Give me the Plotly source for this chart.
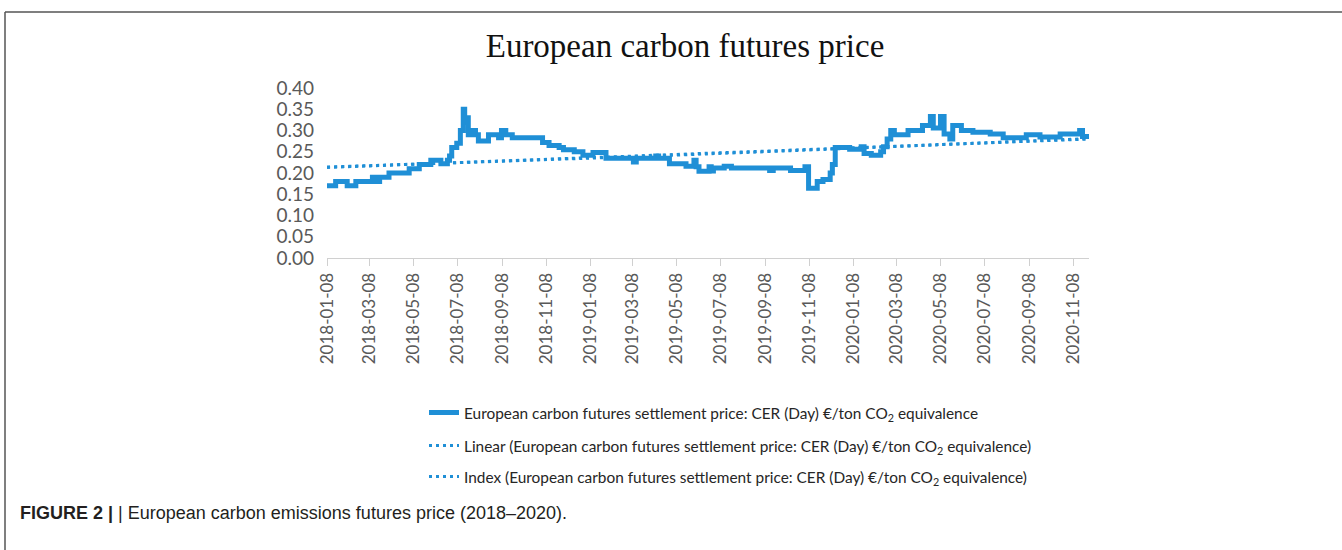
import plotly.graph_objects as go

# ---- data ----
price_dates = [
    "2018-01-08", "2018-01-20", "2018-02-05", "2018-02-17", "2018-03-12", "2018-03-18",
    "2018-03-22", "2018-04-04", "2018-05-02", "2018-05-16", "2018-06-01", "2018-06-15",
    "2018-06-24", "2018-06-27", "2018-06-30", "2018-07-07", "2018-07-12", "2018-07-16",
    "2018-07-18", "2018-07-20", "2018-07-23", "2018-07-27", "2018-08-02", "2018-08-06",
    "2018-08-20", "2018-09-03", "2018-09-07", "2018-09-13", "2018-09-22", "2018-11-03",
    "2018-11-12", "2018-11-26", "2018-12-02", "2018-12-17", "2018-12-29", "2019-01-12",
    "2019-01-30", "2019-03-09", "2019-03-13", "2019-04-09", "2019-04-13", "2019-04-28",
    "2019-05-21", "2019-06-01", "2019-06-04", "2019-06-08", "2019-06-22", "2019-06-25",
    "2019-06-28", "2019-07-13", "2019-07-23", "2019-09-14", "2019-09-19", "2019-10-13",
    "2019-11-02", "2019-11-07", "2019-11-19", "2019-11-27", "2019-12-07", "2019-12-10",
    "2019-12-14", "2020-01-03", "2020-01-19", "2020-01-23", "2020-02-02", "2020-02-15",
    "2020-02-19", "2020-02-24", "2020-02-29", "2020-03-05", "2020-03-24", "2020-04-13",
    "2020-04-24", "2020-04-28", "2020-05-08", "2020-05-13", "2020-05-21", "2020-05-25",
    "2020-06-06", "2020-06-22", "2020-07-16", "2020-08-03", "2020-09-04", "2020-09-23",
    "2020-10-21", "2020-11-17", "2020-11-21", "2020-11-30",
]
price_values = [
    0.170, 0.180, 0.170, 0.180, 0.190, 0.180,
    0.190, 0.200, 0.210, 0.220, 0.230, 0.222,
    0.230, 0.240, 0.260, 0.270, 0.300, 0.350,
    0.320, 0.330, 0.290, 0.300, 0.290, 0.275,
    0.290, 0.283, 0.300, 0.290, 0.283, 0.272,
    0.265, 0.260, 0.255, 0.250, 0.242, 0.248,
    0.235, 0.226, 0.235, 0.240, 0.235, 0.222,
    0.216, 0.230, 0.215, 0.204, 0.215, 0.205,
    0.212, 0.216, 0.212, 0.206, 0.212, 0.206,
    0.215, 0.164, 0.180, 0.185, 0.200, 0.220,
    0.260, 0.256, 0.262, 0.246, 0.242, 0.250,
    0.262, 0.280, 0.300, 0.290, 0.300, 0.312,
    0.333, 0.306, 0.333, 0.292, 0.280, 0.312,
    0.300, 0.296, 0.292, 0.283, 0.290, 0.285,
    0.292, 0.300, 0.286, 0.290,
]

linear_dates = ["2018-01-08", "2020-11-30"]
linear_values = [0.213, 0.280]

index_dates = ["2018-01-08", "2019-06-20", "2020-11-30"]
index_values = [0.214, 0.245, 0.281]

tick_dates = [
    "2018-01-08", "2018-03-08", "2018-05-08", "2018-07-08", "2018-09-08", "2018-11-08",
    "2019-01-08", "2019-03-08", "2019-05-08", "2019-07-08", "2019-09-08", "2019-11-08",
    "2020-01-08", "2020-03-08", "2020-05-08", "2020-07-08", "2020-09-08", "2020-11-08",
]
y_ticks = [0.00, 0.05, 0.10, 0.15, 0.20, 0.25, 0.30, 0.35, 0.40]

name_main = "European carbon futures settlement price: CER (Day) €/ton CO<sub>2</sub> equivalence"
name_lin = "Linear (European carbon futures settlement price: CER (Day) €/ton CO<sub>2</sub> equivalence)"
name_idx = "Index (European carbon futures settlement price: CER (Day) €/ton CO<sub>2</sub> equivalence)"

BLUE = "#1f8fd6"
GRAY = "#595959"

# ---- layout geometry (pixels) ----
W, H = 1342, 550
L, R = 327, 1089
T, B = 88, 258
pw, ph = R - L, B - T


def px_x(p):
    return (p - L) / pw


def px_y(p):
    return (B - p) / ph


fig = go.Figure()
fig.add_trace(go.Scatter(
    x=price_dates, y=price_values, mode="lines", line_shape="hv",
    line=dict(color=BLUE, width=5), name=name_main, legend="legend", showlegend=True,
))
fig.add_trace(go.Scatter(
    x=linear_dates, y=linear_values, mode="lines",
    line=dict(color=BLUE, width=3, dash="3px,4px"), name=name_lin, legend="legend2",
    showlegend=True,
))
fig.add_trace(go.Scatter(
    x=index_dates, y=index_values, mode="lines", line_shape="spline",
    line=dict(color=BLUE, width=3, dash="3px,4px"), name=name_idx, legend="legend3",
    showlegend=True,
))

legend_common = dict(
    xanchor="left", yanchor="middle", bgcolor="rgba(0,0,0,0)", visible=True,
    font=dict(family="Lato", size=15.4, color="#262626"),
)

fig.update_layout(
    width=W, height=H,
    showlegend=True,
    margin=dict(l=L, r=W - R, t=T, b=H - B),
    paper_bgcolor="white", plot_bgcolor="white",
    title=dict(
        text="European carbon futures price",
        font=dict(family="Liberation Serif", size=33, color="#111111"),
        x=685 / W, xref="container", xanchor="center",
        y=1 - 45 / H, yref="container", yanchor="middle",
    ),
    xaxis=dict(
        type="date",
        range=["2018-01-08", "2020-11-30"],
        tickmode="array", tickvals=tick_dates, ticktext=tick_dates,
        tickangle=-90,
        tickfont=dict(family="Lato", size=17, color=GRAY),
        ticks="outside", ticklen=7, tickcolor="#d0d0d0", tickwidth=1,
        showline=True, linecolor="#d0d0d0", linewidth=1,
        showgrid=False, zeroline=False,
    ),
    yaxis=dict(
        range=[0, 0.40],
        tickmode="array", tickvals=y_ticks, ticktext=[f"{v:.2f}" for v in y_ticks],
        tickfont=dict(family="Lato", size=19, color=GRAY),
        ticklabelstandoff=12,
        showline=False, showgrid=False, zeroline=False,
    ),
    legend=dict(x=px_x(424), y=px_y(413), **legend_common),
    legend2=dict(x=px_x(424), y=px_y(446), **legend_common),
    legend3=dict(x=px_x(424), y=px_y(477), **legend_common),
    shapes=[
        dict(type="line", xref="paper", yref="paper",
             x0=px_x(5), x1=px_x(W + 5), y0=px_y(12), y1=px_y(12),
             line=dict(color="#555555", width=1.5)),
        dict(type="line", xref="paper", yref="paper",
             x0=px_x(5), x1=px_x(5), y0=px_y(12), y1=px_y(H + 5),
             line=dict(color="#555555", width=1.5)),
    ],
    annotations=[
        dict(
            text="<b>FIGURE 2 |</b> | European carbon emissions futures price (2018–2020).",
            xref="paper", yref="paper", x=px_x(18), y=px_y(513),
            xanchor="left", yanchor="middle", showarrow=False,
            font=dict(family="Liberation Sans", size=18, color="#231f20"),
        ),
    ],
)

fig.write_html(
    "out.html",
    config={"displayModeBar": False},
    post_script="document.body.style.margin='0';document.body.style.padding='0';",
)
